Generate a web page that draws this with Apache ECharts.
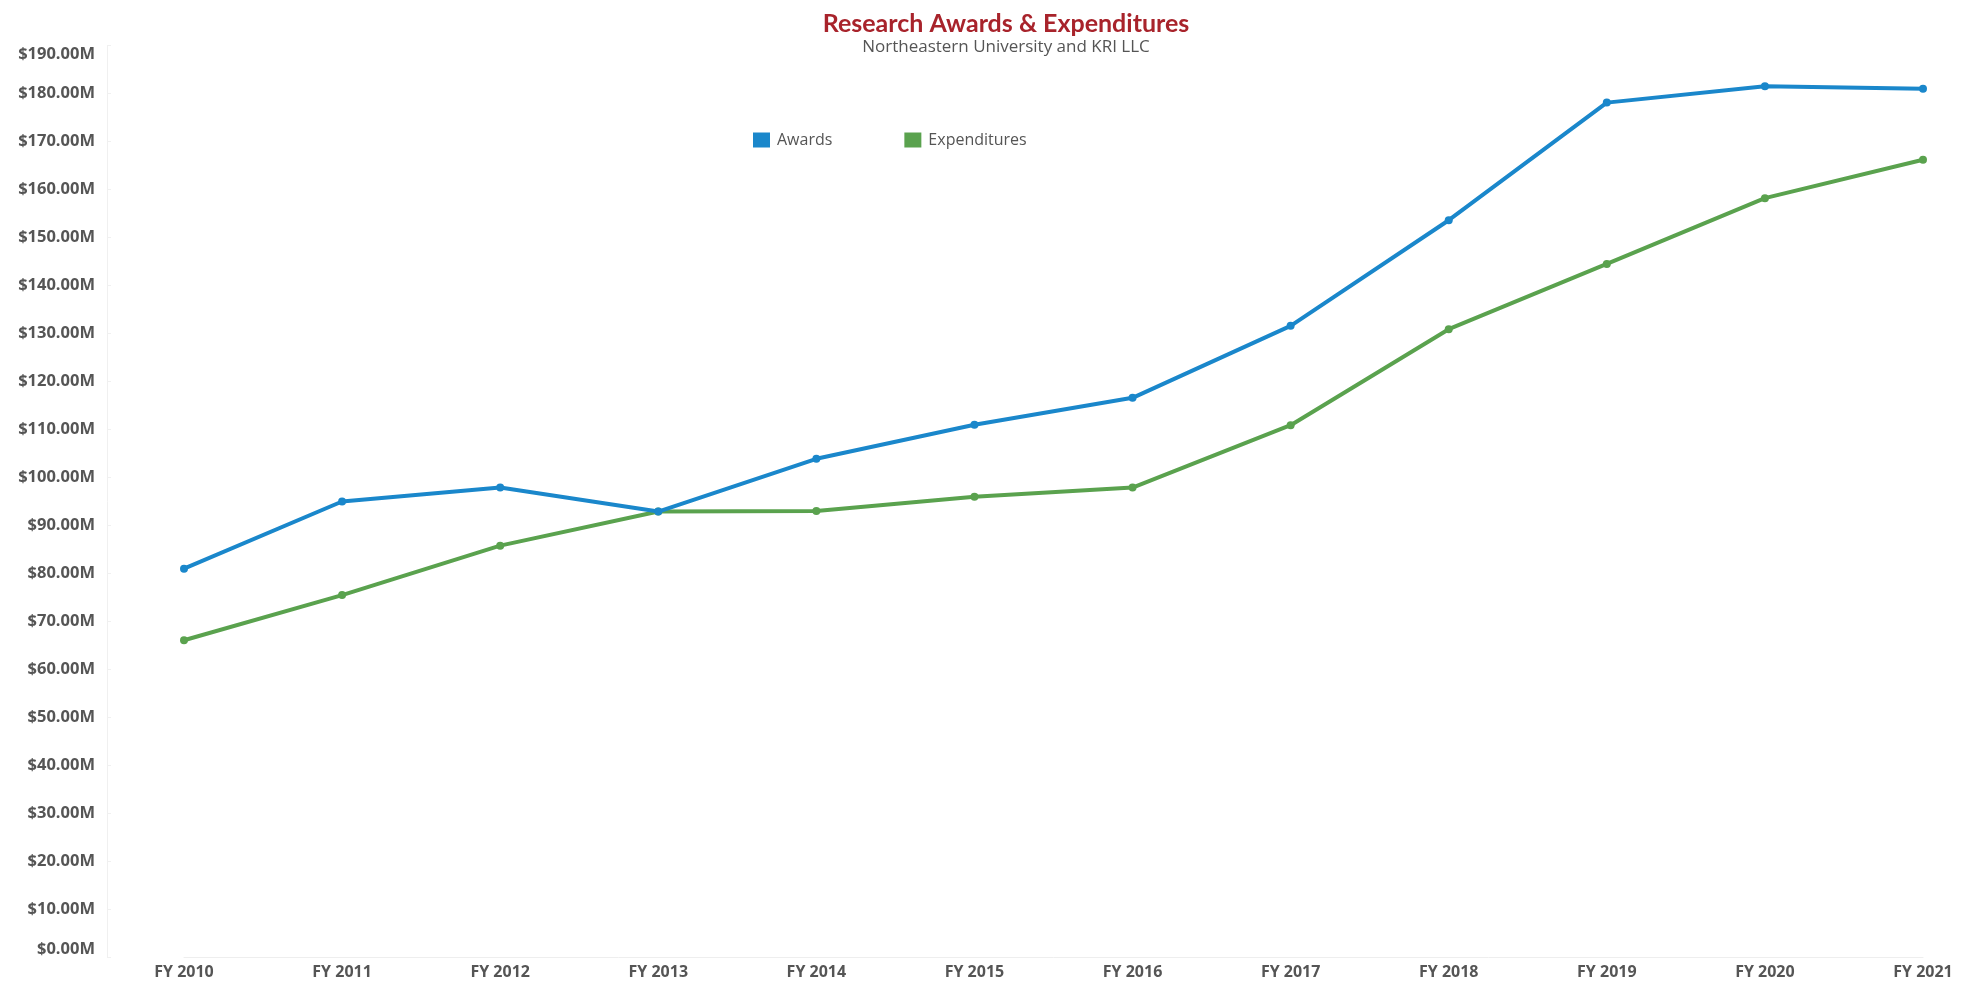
<!DOCTYPE html>
<html>
<head>
<meta charset="utf-8">
<script src="https://cdn.jsdelivr.net/npm/echarts@6/dist/echarts.min.js"></script>
<style>html,body{margin:0;padding:0;background:#fff;}#c{width:1981px;height:984px;}</style>
</head>
<body>
<div id="c"></div>
<script>
var categories = ['FY 2010','FY 2011','FY 2012','FY 2013','FY 2014','FY 2015','FY 2016','FY 2017','FY 2018','FY 2019','FY 2020','FY 2021'];
var awards = [81.0, 95.0, 97.9, 92.9, 103.9, 111.0, 116.6, 131.6, 153.6, 178.1, 181.5, 181.0];
var expenditures = [66.1, 75.5, 85.8, 92.9, 93.0, 96.0, 97.9, 110.9, 130.9, 144.5, 158.2, 166.2];
var yMin = 0, yMax = 190, yStep = 10;

var chart = echarts.init(document.getElementById('c'));
var font = 'Open Sans';
chart.setOption({
  backgroundColor: '#ffffff',
  title: {
    text: 'Research Awards & Expenditures',
    subtext: 'Northeastern University and KRI LLC',
    left: 1001, top: 6, textAlign: 'center',
    itemGap: 3,
    textStyle: {fontFamily: 'Lato', fontSize: 25, fontWeight: 'bold', color: '#a8232b'},
    subtextStyle: {fontFamily: font, fontSize: 17, color: '#555555'}
  },
  legend: {
    left: 748, top: 127,
    itemWidth: 17, itemHeight: 15, itemGap: 72,
    icon: 'rect',
    textStyle: {fontFamily: font, fontSize: 16, color: '#555555', padding: [0,0,0,2]},
    data: ['Awards', 'Expenditures']
  },
  grid: {left: 184, right: 58, top: 45.5, bottom: 26.5, containLabel: false},
  xAxis: {
    type: 'category', data: categories, boundaryGap: false,
    axisLine: {show: true, lineStyle: {color: '#eeeeee', width: 1}},
    axisTick: {show: false},
    axisLabel: {fontFamily: font, fontSize: 16, fontWeight: 'bold', color: '#555555', margin: 7},
    splitLine: {show: false}
  },
  yAxis: {
    type: 'value', min: yMin, max: yMax, interval: yStep,
    offset: 77,
    axisLine: {show: true, lineStyle: {color: '#f0f0f0', width: 1}},
    axisTick: {show: true, length: 4, inside: true, lineStyle: {color: '#f0f0f0'}},
    axisLabel: {
      fontFamily: font, fontSize: 16.5, fontWeight: 'bold', color: '#555555', margin: 12,
      verticalAlignMaxLabel: 'top', verticalAlignMinLabel: 'bottom',
      formatter: function (v) { return '$' + v.toFixed(2) + 'M'; }
    },
    splitLine: {show: false}
  },
  series: [
    {name: 'Awards', type: 'line', data: awards, symbol: 'circle', symbolSize: 8,
     itemStyle: {color: '#1a87cb'}, lineStyle: {color: '#1a87cb', width: 4}, z: 3},
    {name: 'Expenditures', type: 'line', data: expenditures, symbol: 'circle', symbolSize: 8,
     itemStyle: {color: '#5aa24e'}, lineStyle: {color: '#5aa24e', width: 4}, z: 2}
  ],
  animation: false
});
</script>
</body>
</html>
